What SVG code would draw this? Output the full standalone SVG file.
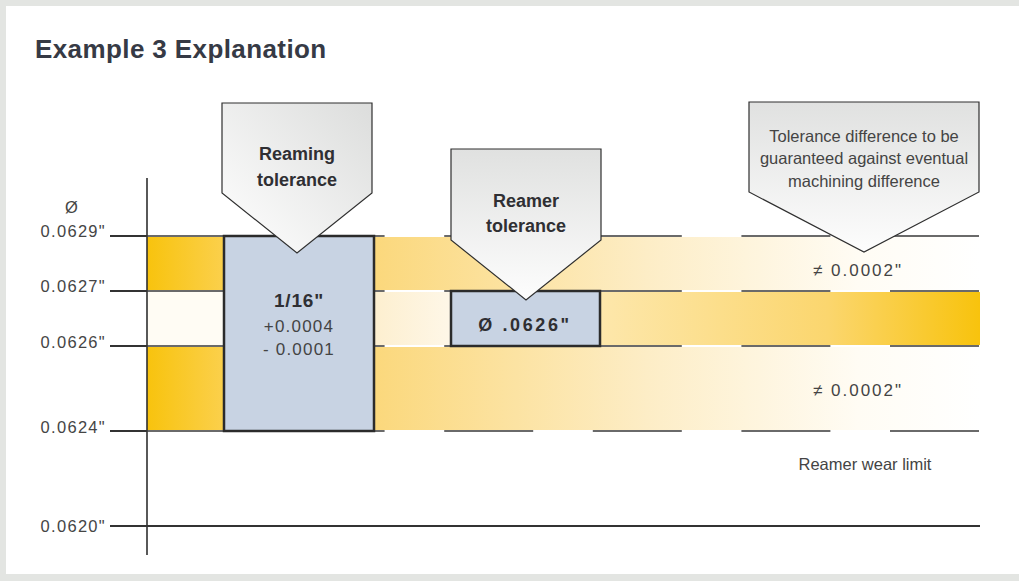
<svg xmlns="http://www.w3.org/2000/svg" width="1019" height="581" viewBox="0 0 1019 581">
<defs>
<style>
.lbl{font-family:"Liberation Sans",Arial,sans-serif;font-size:16.5px;fill:#454545;letter-spacing:1.3px}
.bold{font-family:"Liberation Sans",Arial,sans-serif;font-weight:bold;fill:#2f2f33}
.reg{font-family:"Liberation Sans",Arial,sans-serif;fill:#444}
.dash{stroke:#3a3a3a;stroke-width:1.4;stroke-dasharray:89 59.6;fill:none}
.tick{stroke:#333;stroke-width:1.8}
.box{fill:#c8d3e3;stroke:#2b2b2b;stroke-width:2.5}
.callout{stroke:#2f2f2f;stroke-width:1.2}
</style>
<linearGradient id="ySat" x1="0" y1="0" x2="1" y2="0">
<stop offset="0" stop-color="#f8c30d"/><stop offset="1" stop-color="#fbd04c"/>
</linearGradient>
<linearGradient id="fadeR" gradientUnits="userSpaceOnUse" x1="374" y1="0" x2="980" y2="0">
<stop offset="0" stop-color="#fbd87c"/><stop offset="0.45" stop-color="#fdedc6"/><stop offset="0.8" stop-color="#fffcf4"/><stop offset="1" stop-color="#ffffff"/>
</linearGradient>
<linearGradient id="midL" gradientUnits="userSpaceOnUse" x1="374" y1="0" x2="452" y2="0">
<stop offset="0" stop-color="#fdefcf"/><stop offset="1" stop-color="#fef7e8"/>
</linearGradient>
<linearGradient id="midR" gradientUnits="userSpaceOnUse" x1="600" y1="0" x2="980" y2="0">
<stop offset="0" stop-color="#fde7ab"/><stop offset="0.6" stop-color="#fbd66e"/><stop offset="1" stop-color="#f8c30d"/>
</linearGradient>
<linearGradient id="cg1" x1="0" y1="1" x2="1" y2="0">
<stop offset="0" stop-color="#ffffff"/><stop offset="1" stop-color="#dcdddc"/>
</linearGradient>
<linearGradient id="cg2" x1="0" y1="0" x2="0" y2="1">
<stop offset="0" stop-color="#e0e1e0"/><stop offset="1" stop-color="#fdfdfd"/>
</linearGradient>
</defs>

<rect x="0" y="0" width="1019" height="581" fill="#e3e5e2"/>
<rect x="6" y="6" width="1013" height="568" fill="#ffffff"/>

<text x="35" y="58" class="bold" style="font-size:26px;fill:#363a45;letter-spacing:0.4px">Example 3 Explanation</text>

<g id="bands">
<rect x="147" y="237" width="77" height="53" fill="url(#ySat)"/>
<rect x="147" y="292" width="77" height="53" fill="#fffcf4"/>
<rect x="147" y="347" width="77" height="83" fill="url(#ySat)"/>
<rect x="374" y="237" width="606" height="53" fill="url(#fadeR)"/>
<rect x="374" y="292" width="78" height="53" fill="url(#midL)"/>
<rect x="600" y="292" width="380" height="53" fill="url(#midR)"/>
<rect x="374" y="347" width="606" height="83" fill="url(#fadeR)"/>
</g>

<g id="connectors">
<line x1="147" y1="178" x2="147" y2="555" stroke="#2f2f2f" stroke-width="1.6"/>
<line class="tick" x1="110" y1="236" x2="147" y2="236"/>
<line class="tick" x1="110" y1="291" x2="147" y2="291"/>
<line class="tick" x1="110" y1="346" x2="147" y2="346"/>
<line class="tick" x1="110" y1="431" x2="147" y2="431"/>
<line x1="110" y1="526" x2="980" y2="526" stroke="#333" stroke-width="2.2"/>
<line class="dash" x1="147" y1="236" x2="980" y2="236"/>
<line class="dash" x1="147" y1="291" x2="980" y2="291"/>
<line class="dash" x1="147" y1="346" x2="980" y2="346"/>
<line class="dash" x1="147" y1="431" x2="980" y2="431"/>
</g>

<g id="axis-labels">
<text x="72" y="213" class="lbl" text-anchor="middle">Ø</text>
<text x="106" y="237" class="lbl" text-anchor="end">0.0629"</text>
<text x="106" y="292" class="lbl" text-anchor="end">0.0627"</text>
<text x="106" y="348" class="lbl" text-anchor="end">0.0626"</text>
<text x="106" y="433" class="lbl" text-anchor="end">0.0624"</text>
<text x="106" y="532" class="lbl" text-anchor="end">0.0620"</text>
</g>

<g id="reaming-box">
<rect class="box" x="224" y="236" width="150" height="195"/>
<text x="299" y="307" class="bold" text-anchor="middle" style="font-size:19px;letter-spacing:0.8px">1/16"</text>
<text x="299" y="332" class="reg" text-anchor="middle" style="font-size:17px;letter-spacing:1.2px">+0.0004</text>
<text x="299" y="355" class="reg" text-anchor="middle" style="font-size:17px;letter-spacing:1.2px">- 0.0001</text>
</g>

<g id="reamer-box">
<rect class="box" x="451" y="291" width="149" height="55"/>
<text x="525" y="331" class="bold" text-anchor="middle" style="font-size:18px;letter-spacing:2.6px">Ø .0626"</text>
</g>

<g id="callout-reaming">
<polygon class="callout" fill="url(#cg1)" points="222,103 372,103 372,193 297,253 222,193"/>
<text x="297" y="160" class="bold" text-anchor="middle" style="font-size:18px">Reaming</text>
<text x="297" y="186" class="bold" text-anchor="middle" style="font-size:18px">tolerance</text>
</g>

<g id="callout-reamer">
<polygon class="callout" fill="url(#cg2)" points="451,149 601,149 601,240 526,300 451,240"/>
<text x="526" y="207" class="bold" text-anchor="middle" style="font-size:18px">Reamer</text>
<text x="526" y="232" class="bold" text-anchor="middle" style="font-size:18px">tolerance</text>
</g>

<g id="callout-difference">
<polygon class="callout" fill="url(#cg2)" points="749,102 979,102 979,192 864,252 749,192"/>
<text x="864" y="142" class="reg" text-anchor="middle" style="font-size:16.5px">Tolerance difference to be</text>
<text x="864" y="164" class="reg" text-anchor="middle" style="font-size:16.5px">guaranteed against eventual</text>
<text x="864" y="187" class="reg" text-anchor="middle" style="font-size:16.5px">machining difference</text>
</g>

<g id="diff-labels">
<text x="858" y="276" class="reg" text-anchor="middle" style="font-size:17px;letter-spacing:2px">≠ 0.0002"</text>
<text x="858" y="396" class="reg" text-anchor="middle" style="font-size:17px;letter-spacing:2px">≠ 0.0002"</text>
<text x="865" y="470" class="reg" text-anchor="middle" style="font-size:16.5px">Reamer wear limit</text>
</g>
</svg>
